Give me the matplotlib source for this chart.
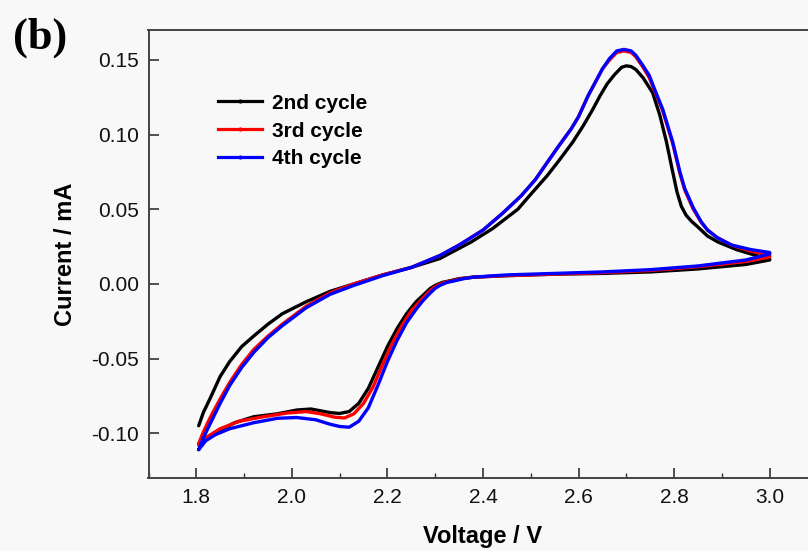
import matplotlib
matplotlib.use("Agg")
import matplotlib.pyplot as plt
from matplotlib.lines import Line2D
from matplotlib.ticker import MultipleLocator

# ---------------- data ----------------
labels = ["2nd cycle", "3rd cycle", "4th cycle"]
colors = ["#000000", "#ff0000", "#0000ff"]

# 2nd cycle: anodic sweep (1.8 -> 3.0) then cathodic sweep (3.0 -> 1.8)
v2 = [1.805, 1.815, 1.83, 1.85, 1.87, 1.895, 1.92, 1.95, 1.98, 2.03, 2.08, 2.13, 2.19, 2.25,
      2.31, 2.375, 2.42, 2.473, 2.50, 2.535, 2.56, 2.588, 2.61, 2.63, 2.645, 2.66, 2.675,
      2.69, 2.70, 2.71, 2.72, 2.735, 2.755, 2.77, 2.784, 2.795, 2.806, 2.815, 2.825, 2.836,
      2.85, 2.87, 2.892, 2.93, 2.961, 3.00,
      3.00, 2.95, 2.85, 2.75, 2.65, 2.55, 2.45, 2.38, 2.35, 2.33, 2.315, 2.30, 2.29, 2.28,
      2.26, 2.24, 2.22, 2.20, 2.18, 2.16, 2.14, 2.12, 2.10, 2.08, 2.06, 2.04, 2.01, 1.97,
      1.92, 1.88, 1.85, 1.82, 1.805]
i2 = [-0.095, -0.086, -0.076, -0.062, -0.052, -0.042, -0.035, -0.027, -0.020, -0.012,
      -0.005, 0.000, 0.006, 0.011, 0.017, 0.028, 0.037, 0.050, 0.060, 0.0727, 0.083, 0.095,
      0.106, 0.117, 0.126, 0.134, 0.140, 0.1450, 0.146, 0.1455, 0.1435, 0.138, 0.128,
      0.113, 0.095, 0.078, 0.0615, 0.052, 0.046, 0.042, 0.038, 0.032, 0.028, 0.023, 0.020,
      0.0165,
      0.016, 0.013, 0.010, 0.008, 0.007, 0.0065, 0.0055, 0.0045, 0.0035, 0.002, 0.001,
      -0.001, -0.003, -0.006, -0.012, -0.020, -0.030, -0.042, -0.056, -0.070, -0.080,
      -0.0855, -0.0868, -0.0862, -0.085, -0.0838, -0.0845, -0.087, -0.089, -0.093, -0.098,
      -0.104, -0.107]

# 3rd cycle
v3 = [1.805, 1.815, 1.83, 1.85, 1.87, 1.895, 1.92, 1.95, 1.98, 2.03, 2.08, 2.13, 2.19,
      2.25, 2.31, 2.35, 2.40, 2.44, 2.48, 2.51, 2.535, 2.56, 2.585, 2.60, 2.62, 2.635, 2.65,
      2.665, 2.68, 2.695, 2.71, 2.72, 2.735, 2.748, 2.762, 2.776, 2.797, 2.812, 2.822, 2.84,
      2.857, 2.87, 2.89, 2.92, 2.96, 3.00,
      3.00, 2.95, 2.85, 2.75, 2.65, 2.55, 2.45, 2.38, 2.355, 2.335, 2.32, 2.305, 2.295,
      2.285, 2.27, 2.25, 2.23, 2.21, 2.19, 2.17, 2.15, 2.13, 2.11, 2.09, 2.06, 2.03, 1.99,
      1.94, 1.89, 1.85, 1.82, 1.805]
i3 = [-0.107, -0.099, -0.089, -0.077, -0.066, -0.054, -0.044, -0.035, -0.027, -0.015,
      -0.006, 0.000, 0.006, 0.011, 0.019, 0.026, 0.036, 0.047, 0.059, 0.070, 0.0816, 0.093,
      0.104, 0.112, 0.126, 0.135, 0.144, 0.150, 0.155, 0.156, 0.155, 0.152, 0.145, 0.138,
      0.127, 0.116, 0.094, 0.074, 0.063, 0.050, 0.041, 0.036, 0.031, 0.026, 0.022, 0.019,
      0.018, 0.015, 0.0115, 0.009, 0.0075, 0.0065, 0.0055, 0.0045, 0.0035, 0.002, 0.001,
      -0.001, -0.003, -0.006, -0.011, -0.018, -0.028, -0.040, -0.054, -0.069, -0.080,
      -0.087, -0.0898, -0.0893, -0.087, -0.0855, -0.0865, -0.089, -0.092, -0.097, -0.103,
      -0.108]

# 4th cycle
v4 = [1.805, 1.815, 1.83, 1.85, 1.87, 1.895, 1.92, 1.95, 1.98, 2.03, 2.08, 2.13, 2.19,
      2.25, 2.31, 2.35, 2.40, 2.44, 2.48, 2.51, 2.535, 2.56, 2.585, 2.60, 2.62, 2.635, 2.65,
      2.665, 2.68, 2.695, 2.71, 2.72, 2.735, 2.748, 2.762, 2.776, 2.797, 2.812, 2.822, 2.84,
      2.857, 2.87, 2.89, 2.92, 2.96, 3.00,
      3.00, 2.95, 2.85, 2.75, 2.65, 2.55, 2.45, 2.38, 2.36, 2.34, 2.325, 2.31, 2.30, 2.29,
      2.275, 2.26, 2.24, 2.22, 2.20, 2.18, 2.16, 2.14, 2.12, 2.10, 2.08, 2.05, 2.01, 1.97,
      1.92, 1.87, 1.84, 1.82, 1.805]
i4 = [-0.111, -0.103, -0.093, -0.080, -0.068, -0.056, -0.046, -0.036, -0.028, -0.016,
      -0.007, -0.001, 0.0055, 0.011, 0.019, 0.026, 0.036, 0.047, 0.059, 0.070, 0.0816,
      0.093, 0.104, 0.112, 0.126, 0.135, 0.144, 0.151, 0.156, 0.157, 0.156, 0.153, 0.146,
      0.1395, 0.128, 0.117, 0.095, 0.075, 0.064, 0.051, 0.0414, 0.036, 0.031, 0.026, 0.023,
      0.021,
      0.020, 0.016, 0.012, 0.0095, 0.008, 0.007, 0.006, 0.0045, 0.0035, 0.002, 0.001,
      -0.001, -0.003, -0.006, -0.011, -0.017, -0.026, -0.038, -0.052, -0.068, -0.083,
      -0.092, -0.096, -0.0955, -0.094, -0.091, -0.0895, -0.090, -0.093, -0.097, -0.101,
      -0.105, -0.111]

volts = [v2, v3, v4]
currents = [i2, i3, i4]

x_ticks = [1.8, 2.0, 2.2, 2.4, 2.6, 2.8, 3.0]
y_ticks = [-0.10, -0.05, 0.00, 0.05, 0.10, 0.15]

# ---------------- figure ----------------
W, H = 808, 551
fig = plt.figure(figsize=(W / 100, H / 100), dpi=100)
bg = "#f8f8f8"
fig.patch.set_facecolor(bg)

left, right, bottom, top = 148.5, 817.5, 478, 30
ax = fig.add_axes([left / W, 1 - bottom / H, (right - left) / W, (bottom - top) / H])
ax.set_facecolor(bg)

for v, i, c in zip(volts, currents, colors):
    ax.plot(v, i, color=c, lw=2.4, solid_joinstyle="round", solid_capstyle="round")

ax.set_xlim(1.7, 3.1)
ax.set_ylim(-0.13, 0.17)
ax.set_xticks(x_ticks)
ax.set_xticklabels([f"{t:.1f}" for t in x_ticks])
ax.set_yticks(y_ticks)
ax.set_yticklabels([f"{t:.2f}" for t in y_ticks])
ax.xaxis.set_minor_locator(MultipleLocator(0.1))

tick_font = "Liberation Sans"
ax.tick_params(axis="both", which="major", direction="in", length=7, width=1.2,
               colors="#333333", labelcolor="#111111", labelsize=15, pad=7)
ax.tick_params(axis="x", which="minor", direction="in", length=3.5, width=1.0, colors="#333333")
ax.tick_params(top=False, right=False)
for lab in ax.get_xticklabels() + ax.get_yticklabels():
    lab.set_family(tick_font)

for s in ax.spines.values():
    s.set_linewidth(1.4)
    s.set_color("#444444")

ax.set_xlabel("Voltage / V", fontsize=17, fontweight="bold", family=tick_font, labelpad=13)
ax.set_ylabel("Current / mA", fontsize=17, fontweight="bold", family=tick_font, labelpad=10)

handles = [Line2D([0], [0], color=c, lw=2.3, marker="o", markersize=2) for c in colors]
leg = ax.legend(handles, labels, loc="upper left",
                bbox_to_anchor=((199 - left) / (right - left), (bottom - 75) / (bottom - top)),
                frameon=False, handlelength=2.1, handletextpad=0.5, labelspacing=0.42,
                prop={"family": tick_font, "weight": "bold", "size": 15}, numpoints=1)

fig.text(13 / W, 1 - 38 / H, "(b)", fontsize=32, fontweight="bold",
         family="Liberation Serif", ha="left", va="center")

fig.savefig("out.png", dpi=100, facecolor=bg)
